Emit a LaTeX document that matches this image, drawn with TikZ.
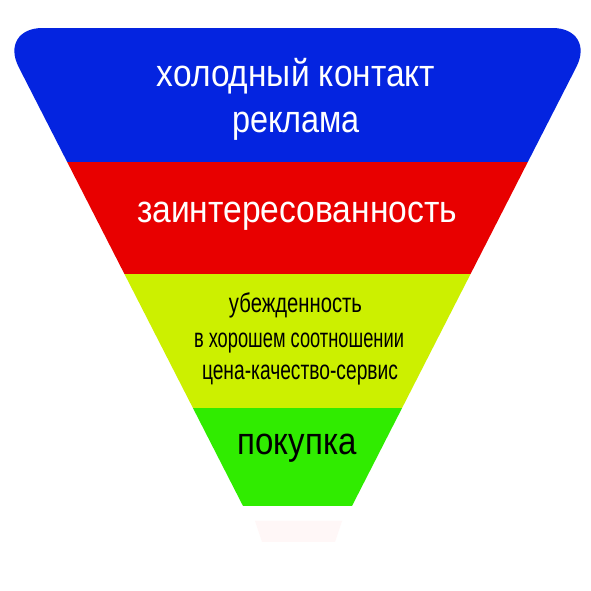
\documentclass[tikz,border=0pt]{standalone}
\usepackage{fontspec}
\setmainfont{Liberation Sans}
\usepackage{graphicx}
\definecolor{bandblue}{RGB}{4,36,224}
\definecolor{bandred}{RGB}{232,0,0}
\definecolor{bandyellow}{RGB}{204,240,0}
\definecolor{bandgreen}{RGB}{48,236,0}
\tikzset{
  lbl/.style={anchor=base, inner sep=0pt},
}
\newcommand{\fitw}[3]{\resizebox{#1pt}{\height}{\fontsize{#2}{#2}\selectfont #3}}
\begin{document}
\begin{tikzpicture}[x=1pt,y=1pt]
\useasboundingbox (0,0) rectangle (591,591);
\fill[white] (0,0) rectangle (591,591);
% faint reflection below the funnel
\fill[red!3] (255,70) -- (342,70) -- (335,49) -- (262,49) -- cycle;
\begin{scope}
\clip (0,85) rectangle (591,591);
\clip[rounded corners=44pt] (297.5,-21.6) -- (-1.3,563) -- (596.3,563) -- cycle;
\fill[bandblue] (0,429) rectangle (591,563);
\fill[bandred] (0,317) rectangle (591,429);
\fill[bandyellow] (0,183) rectangle (591,317);
\fill[bandgreen] (0,85) rectangle (591,183);
\end{scope}
\node[lbl, text=white] (t1) at (296,504) {\fitw{278}{38}{холодный контакт}};
\node[lbl, text=white] (t2) at (296,458) {\fitw{128}{38}{реклама}};
\node[lbl, text=white] (t3) at (297,368) {\fitw{320}{38}{заинтересованность}};
\node[lbl] (t4) at (295.5,278) {\fitw{133}{27}{убежденность}};
\node[lbl] (t5) at (299,243) {\fitw{210}{27}{в хорошем соотношении}};
\node[lbl] (t6) at (300,211) {\fitw{196}{27}{цена-качество-сервис}};
\node[lbl] (t7) at (297,136) {\fitw{119}{38}{покупка}};
\end{tikzpicture}
\end{document}
